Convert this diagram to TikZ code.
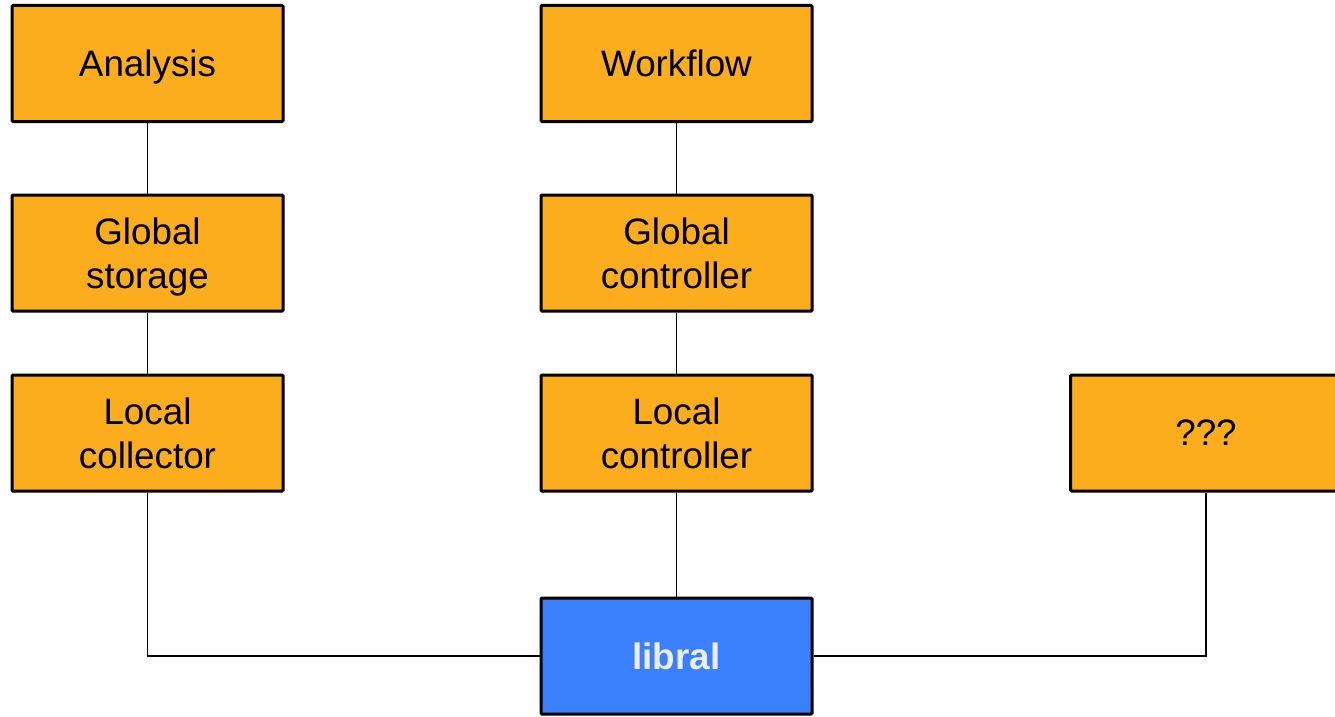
\documentclass[tikz,border=0pt]{standalone}
\usepackage{fontspec}
\setmainfont{Liberation Sans}
\definecolor{boxorange}{HTML}{FCAD1D}
\definecolor{boxblue}{HTML}{3A7FFC}
\definecolor{libtext}{HTML}{EEEEEE}
\begin{document}
\begin{tikzpicture}[x=0.75pt,y=-0.75pt,
  comp/.style={draw=black, line width=2.25pt, fill=boxorange, minimum width=271*0.75pt, minimum height=116*0.75pt, inner sep=0pt, align=center, font=\fontsize{27.6}{32.5}\selectfont, text depth=0pt, rounded corners=0.8pt},
  core/.style={comp, fill=boxblue, text=libtext, font=\fontsize{27.6}{32.5}\selectfont\bfseries},
  link/.style={line width=1pt, draw=black}]
\useasboundingbox (0,0) rectangle (1335,717);
\begin{scope}
\clip (0,0) rectangle (1335,717);
\node[comp] (an) at (147.5,63.5) {Analysis};
\node[comp] (gs) at (147.5,253) {Global\\storage};
\node[comp] (lc) at (147.5,433) {Local\\collector};
\node[comp] (wf) at (676.5,63.5) {Workflow};
\node[comp] (gc) at (676.5,253) {Global\\controller};
\node[comp] (lctl) at (676.5,433) {Local\\controller};
\node[comp] (q) at (1206,433) {???};
\node[core] (lib) at (676.5,656) {libral};
\draw[link] (an) -- (gs);
\draw[link] (gs) -- (lc);
\draw[link] (wf) -- (gc);
\draw[link] (gc) -- (lctl);
\draw[link] (lctl) -- (lib);
\draw[link] (lc.south) |- (lib.west);
\draw[link] (q.south) |- (lib.east);
\end{scope}
\end{tikzpicture}
\end{document}
